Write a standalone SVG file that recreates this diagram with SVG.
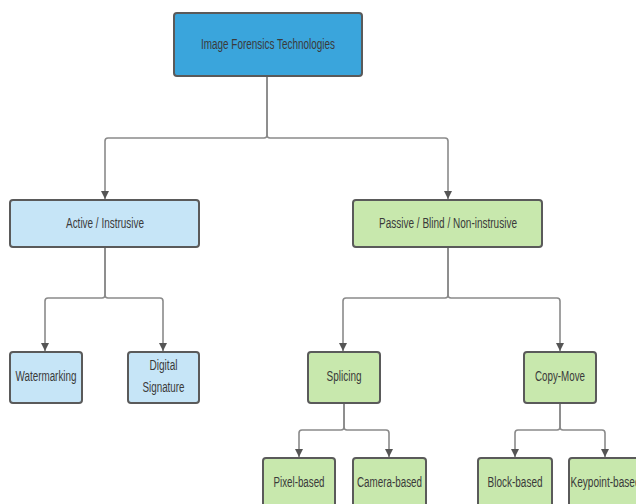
<svg xmlns="http://www.w3.org/2000/svg" width="636" height="504" viewBox="0 0 636 504">
<defs>
<marker id="ah" viewBox="0 0 8 10" refX="8" refY="5" markerWidth="8" markerHeight="10" markerUnits="userSpaceOnUse" orient="auto">
<path d="M0,1 L8,5 L0,9 Z" fill="#555"/>
</marker>
<style>
.n{stroke:#5a5a5a;stroke-width:2}
.root{fill:#3aa5dc}
.blue{fill:#c6e5f7}
.green{fill:#c8e8ad}
.t{font-family:"Liberation Sans",Arial,sans-serif;font-size:14px;fill:#3a3a3a;text-anchor:middle}
.c{fill:none;stroke:#8a8a8a;stroke-width:1.6;marker-end:url(#ah)}
</style>
</defs>
<rect width="636" height="504" fill="#ffffff"/>
<g id="connectors">
<path class="c" d="M267,76 V135 Q267,138 264,138 H108 Q105,138 105,141 V199"/>
<path class="c" d="M267,76 V135 Q267,138 270,138 H445 Q448,138 448,141 V199"/>
<path class="c" d="M105,247 V295 Q105,298 102,298 H48 Q45,298 45,301 V351"/>
<path class="c" d="M105,247 V295 Q105,298 108,298 H160 Q163,298 163,301 V351"/>
<path class="c" d="M448,247 V295 Q448,298 445,298 H346 Q343,298 343,301 V351"/>
<path class="c" d="M448,247 V295 Q448,298 451,298 H557 Q560,298 560,301 V351"/>
<path class="c" d="M344,403 V427 Q344,430 341,430 H302 Q299,430 299,433 V457"/>
<path class="c" d="M344,403 V427 Q344,430 347,430 H386 Q389,430 389,433 V457"/>
<path class="c" d="M560,403 V427 Q560,430 557,430 H518 Q515,430 515,433 V457"/>
<path class="c" d="M560,403 V427 Q560,430 563,430 H602 Q605,430 605,433 V457"/>
</g>
<g id="root">
<rect class="n root" x="174" y="13" width="188" height="63" rx="3"/>
<text class="t" x="268" y="49" textLength="134" lengthAdjust="spacingAndGlyphs">Image Forensics Technologies</text>
</g>
<g id="active">
<rect class="n blue" x="10" y="200" width="189" height="47" rx="3"/>
<text class="t" x="105" y="228" textLength="78" lengthAdjust="spacingAndGlyphs">Active / Instrusive</text>
</g>
<g id="passive">
<rect class="n green" x="353" y="200" width="189" height="47" rx="3"/>
<text class="t" x="448" y="228" textLength="138" lengthAdjust="spacingAndGlyphs">Passive / Blind / Non-instrusive</text>
</g>
<g id="watermarking">
<rect class="n blue" x="10" y="352" width="72" height="51" rx="3"/>
<text class="t" x="46" y="381" textLength="61" lengthAdjust="spacingAndGlyphs">Watermarking</text>
</g>
<g id="digital-signature">
<rect class="n blue" x="128" y="352" width="71" height="51" rx="3"/>
<text class="t" x="163.5" y="370" textLength="28" lengthAdjust="spacingAndGlyphs">Digital</text>
<text class="t" x="163.5" y="392" textLength="42" lengthAdjust="spacingAndGlyphs">Signature</text>
</g>
<g id="splicing">
<rect class="n green" x="308" y="352" width="72" height="51" rx="3"/>
<text class="t" x="344" y="381" textLength="35" lengthAdjust="spacingAndGlyphs">Splicing</text>
</g>
<g id="copy-move">
<rect class="n green" x="524" y="352" width="72" height="51" rx="3"/>
<text class="t" x="560" y="381" textLength="50" lengthAdjust="spacingAndGlyphs">Copy-Move</text>
</g>
<g id="pixel-based">
<rect class="n green" x="263" y="458" width="72" height="52" rx="3"/>
<text class="t" x="299" y="487" textLength="51" lengthAdjust="spacingAndGlyphs">Pixel-based</text>
</g>
<g id="camera-based">
<rect class="n green" x="353" y="458" width="73" height="52" rx="3"/>
<text class="t" x="389.5" y="487" textLength="65" lengthAdjust="spacingAndGlyphs">Camera-based</text>
</g>
<g id="block-based">
<rect class="n green" x="478" y="458" width="74" height="52" rx="3"/>
<text class="t" x="515" y="487" textLength="55" lengthAdjust="spacingAndGlyphs">Block-based</text>
</g>
<g id="keypoint-based">
<rect class="n green" x="569" y="458" width="73" height="52" rx="3"/>
<text class="t" x="605.5" y="487" textLength="70" lengthAdjust="spacingAndGlyphs">Keypoint-based</text>
</g>
</svg>
